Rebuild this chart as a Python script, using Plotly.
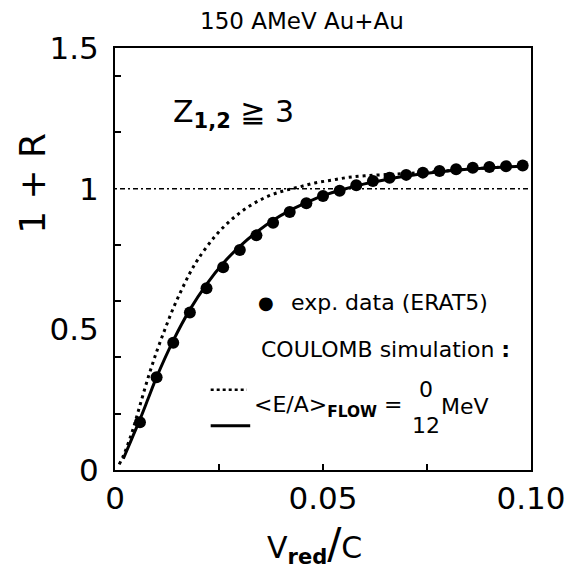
import plotly.graph_objects as go

# ---- data ----
exp_x = [0.006, 0.010, 0.014, 0.018, 0.022, 0.026, 0.030, 0.034, 0.038, 0.042,
         0.046, 0.050, 0.054, 0.058, 0.062, 0.066, 0.070, 0.074, 0.078, 0.082,
         0.086, 0.090, 0.094, 0.098]
exp_y = [0.17, 0.33, 0.452, 0.56, 0.646, 0.721, 0.782, 0.834, 0.879, 0.917,
         0.948, 0.974, 0.993, 1.012, 1.027, 1.039, 1.049, 1.057, 1.063, 1.069,
         1.074, 1.077, 1.080, 1.082]

flow12_x = [0.002, 0.004, 0.006, 0.008, 0.010, 0.014, 0.018, 0.022, 0.026, 0.030,
            0.034, 0.038, 0.042, 0.046, 0.050, 0.055, 0.060, 0.065, 0.070, 0.075,
            0.080, 0.085, 0.090, 0.095, 0.098]
flow12_y = [0.04, 0.11, 0.18, 0.255, 0.33, 0.46, 0.57, 0.66, 0.735, 0.795,
            0.845, 0.888, 0.922, 0.95, 0.975, 0.998, 1.017, 1.032, 1.045, 1.055,
            1.063, 1.069, 1.074, 1.078, 1.080]

flow0_x = [0.001, 0.002, 0.004, 0.006, 0.008, 0.010, 0.012, 0.014, 0.016, 0.018,
           0.020, 0.024, 0.028, 0.032, 0.036, 0.040, 0.044, 0.048, 0.052, 0.056,
           0.060, 0.065, 0.070, 0.075, 0.080, 0.085, 0.090, 0.095, 0.098]
flow0_y = [0.02, 0.05, 0.13, 0.23, 0.33, 0.42, 0.50, 0.575, 0.64, 0.70,
           0.75, 0.83, 0.89, 0.935, 0.968, 0.99, 1.005, 1.02, 1.03, 1.04,
           1.046, 1.05, 1.054, 1.059, 1.064, 1.069, 1.074, 1.078, 1.080]

ref_level = 1.0
x_range = [0, 0.1]
y_range = [0, 1.5]
x_tickvals = [0, 0.05, 0.1]
x_ticktext = ["0", "0.05", "0.10"]
x_minor_ticks = [0.025, 0.075]
y_tickvals = [0, 0.5, 1, 1.5]
y_ticktext = ["0", "0.5", "1", "1.5"]
y_minor_ticks = [0.2, 0.4, 0.6, 0.8, 1.2, 1.4]

FONT = "DejaVu Sans"

fig = go.Figure()

fig.add_trace(go.Scatter(x=x_range, y=[ref_level, ref_level], mode="lines",
                         line=dict(color="black", width=1.5, dash="2px,3px,5px,3px"),
                         showlegend=False, hoverinfo="skip"))
fig.add_trace(go.Scatter(x=flow0_x, y=flow0_y, mode="lines",
                         line=dict(color="black", width=3, dash="3px,4px", shape="spline"),
                         showlegend=False))
fig.add_trace(go.Scatter(x=flow12_x, y=flow12_y, mode="lines",
                         line=dict(color="black", width=3, shape="spline"),
                         showlegend=False))
fig.add_trace(go.Scatter(x=exp_x, y=exp_y, mode="markers",
                         marker=dict(color="black", size=12),
                         showlegend=False))

ann = []
def A(text, x, y, size, xanchor="left", yanchor="middle", **kw):
    ann.append(dict(text=text, x=x, y=y, xref="paper", yref="paper",
                    showarrow=False, xanchor=xanchor, yanchor=yanchor,
                    font=dict(family=FONT, size=size, color="black"), **kw))

# title
A("150 AMeV Au+Au", 0.45, 1.065, 23, xanchor="center")
# Z label
A("Z<sub><b>1,2</b></sub> ≧ 3", 0.135, 0.845, 30)
# legend block
A("●", 0.363, 0.396, 18, xanchor="center")
A("exp. data (ERAT5)", 0.418, 0.396, 22)
A("COULOMB simulation <b>:</b>", 0.345, 0.285, 22)
A("&lt;E/A&gt;<sub><b>FLOW</b></sub> =", 0.33, 0.15, 22)
A("0", 0.748, 0.19, 22, xanchor="center")
A("12", 0.748, 0.105, 22, xanchor="center")
A("MeV", 0.778, 0.15, 22)
# axis titles
A("1 + R", -0.2, 0.68, 36, xanchor="center", textangle=-90)
A("V<sub><b>red</b></sub><span style='font-size:42px'>/</span>C", 0.48, -0.175, 30,
  xanchor="center")

fig.update_layout(annotations=ann)

# legend line samples
fig.add_shape(type="line", xref="paper", yref="paper", x0=0.230, x1=0.317,
              y0=0.19, y1=0.19, line=dict(color="black", width=2.5, dash="3px,3px"))
fig.add_shape(type="line", xref="paper", yref="paper", x0=0.230, x1=0.325,
              y0=0.105, y1=0.105, line=dict(color="black", width=3))

fig.update_xaxes(range=x_range, showgrid=False, zeroline=False,
                 showline=True, linecolor="black", linewidth=2, mirror=True,
                 ticks="inside", ticklen=6, tickwidth=1.5, tickcolor="black",
                 tickvals=x_tickvals, ticktext=x_ticktext,
                 minor=dict(tickvals=x_minor_ticks, ticks="inside", ticklen=6,
                            tickwidth=1.5, tickcolor="black"),
                 tickfont=dict(family=FONT, size=31, color="black"))
fig.update_yaxes(range=y_range, showgrid=False, zeroline=False,
                 showline=True, linecolor="black", linewidth=2, mirror=True,
                 ticks="", tickvals=y_tickvals, ticktext=y_ticktext,
                 ticklabelstandoff=8,
                 minor=dict(tickvals=y_minor_ticks, ticks="inside", ticklen=6,
                            tickwidth=1.5, tickcolor="black"),
                 tickfont=dict(family=FONT, size=31, color="black"))

fig.update_layout(width=578, height=573, plot_bgcolor="white", paper_bgcolor="white",
                  margin=dict(l=115, r=42, t=48, b=103), showlegend=False)

fig.write_html("out.html")
